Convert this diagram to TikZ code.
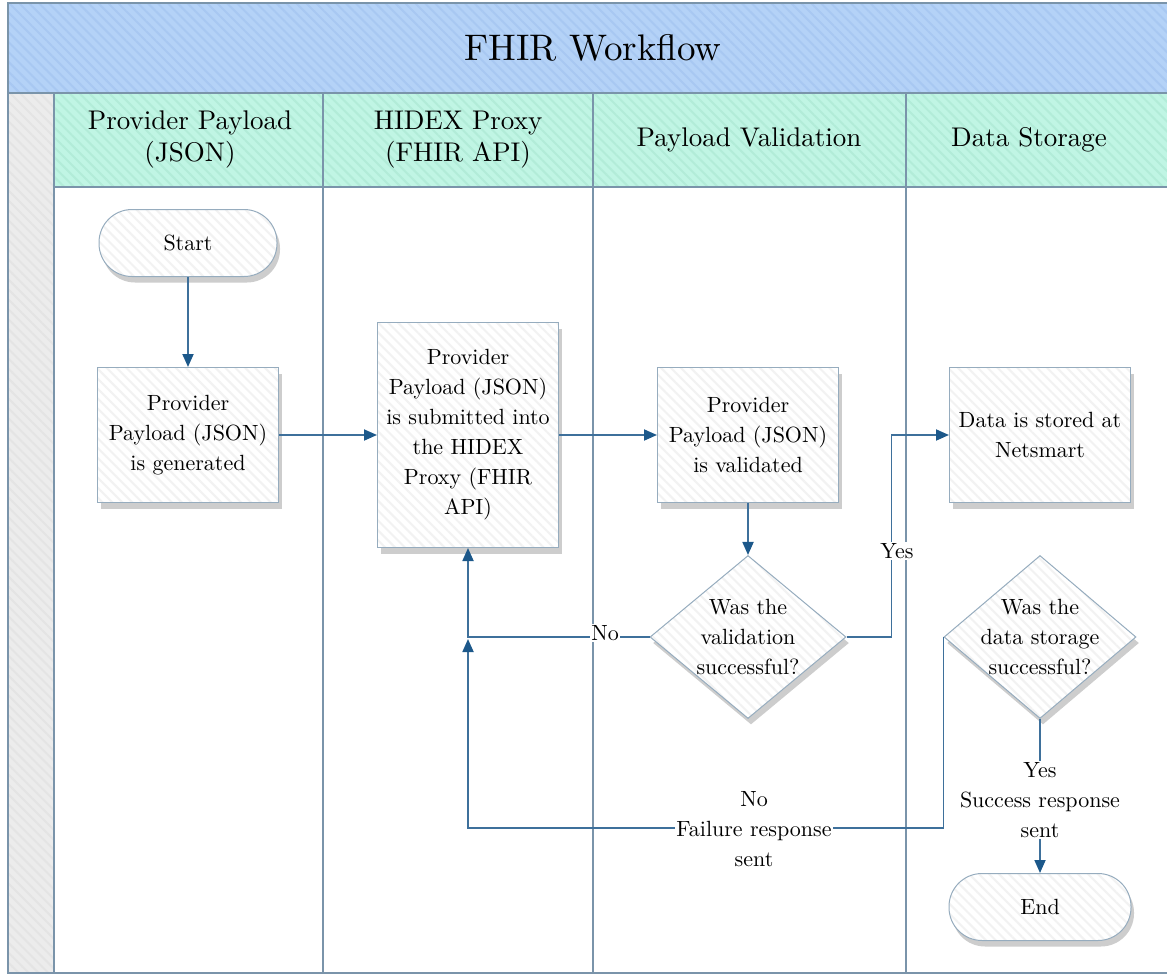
\documentclass[tikz,border=0pt]{standalone}
\usepackage{fontspec}
\setmainfont{lmroman10-regular.otf}
\usetikzlibrary{arrows.meta,shapes.geometric,shadows,patterns.meta,calc}
\definecolor{titleblue}{RGB}{180,210,247}
\definecolor{titlestripe}{RGB}{168,200,242}
\definecolor{headmint}{RGB}{192,245,228}
\definecolor{headstripe}{RGB}{178,236,216}
\definecolor{graycol}{RGB}{236,236,236}
\definecolor{graystripe}{RGB}{228,228,228}
\definecolor{nodestripe}{RGB}{242,242,242}
\definecolor{frameline}{RGB}{122,148,170}
\definecolor{nodeline}{RGB}{150,172,190}
\definecolor{connline}{RGB}{62,112,155}
\definecolor{tipcol}{RGB}{28,88,138}
\tikzset{
  striped/.style 2 args={preaction={fill=#1},pattern={Lines[angle=-45,distance=7pt,line width=2pt]},pattern color=#2},
  frame/.style={draw=frameline,line width=2pt},
  nfont/.style={font=\fontsize{22}{30}\selectfont},
  basenode/.style={draw=nodeline,line width=1pt,align=center,nfont,
     drop shadow={shadow xshift=3pt,shadow yshift=-6pt,opacity=0.3,fill=black!65},
     striped={white}{nodestripe}},
  terminal/.style={basenode,rectangle,rounded corners=33pt,minimum width=178pt,minimum height=67pt,inner sep=0pt},
  process/.style={basenode,rectangle,minimum width=181pt,minimum height=135pt,inner sep=2pt},
  decision/.style={basenode,diamond,minimum width=196pt,minimum height=163pt,inner sep=0pt},
  dtext/.style={align=center,nfont,inner sep=0pt},
  conn/.style={draw=connline,line width=1.8pt,-{Triangle[length=13pt,width=11pt,color=tipcol]}},
  lab/.style={fill=white,align=center,nfont,inner sep=1pt},
  headtext/.style={align=center,font=\fontsize{27}{32}\selectfont},
}
\begin{document}
\begin{tikzpicture}[x=1pt,y=-1pt]
\useasboundingbox (0,0) rectangle (1167,974);
% title band
\path[striped={titleblue}{titlestripe}] (8,3) rectangle (1180,93);
% header row
\path[striped={headmint}{headstripe}] (54,93) rectangle (1180,187);
% gray column
\path[striped={graycol}{graystripe}] (8,93) rectangle (54,973);
% frame lines
\draw[frame] (8,3) rectangle (1180,973);
\draw[frame] (8,93) -- (1180,93);
\draw[frame] (54,187) -- (1180,187);
\draw[frame] (54,93) -- (54,973);
\draw[frame] (323,93) -- (323,973);
\draw[frame] (593,93) -- (593,973);
\draw[frame] (906,93) -- (906,973);
% texts
\node[font=\fontsize{37}{42}\selectfont] (title) at (593,48) {FHIR Workflow};
\node[headtext] (h1) at (190,140) {Provider Payload\\(JSON)};
\node[headtext] (h2) at (458,140) {HIDEX Proxy\\(FHIR API)};
\node[headtext] (h3) at (749,140) {Payload Validation};
\node[headtext] (h4) at (1029,140) {Data Storage};
% nodes
\node[terminal] (start) at (188,243) {Start};
\node[process] (b1) at (188,435) {Provider\\Payload (JSON)\\is generated};
\node[process,minimum height=225pt] (b2) at (468,435) {Provider\\Payload (JSON)\\is submitted into\\the HIDEX\\Proxy (FHIR\\API)};
\node[process] (b3) at (748,435) {Provider\\Payload (JSON)\\is validated};
\node[process] (b4) at (1040,435) {Data is stored at\\Netsmart};
\node[decision] (d1) at (748,637) {};
\node[dtext] (d1t) at (748,637) {Was the\\validation\\successful?};
\node[decision,minimum width=192pt] (d2) at (1040,637) {};
\node[dtext] (d2t) at (1040,637) {Was the\\data storage\\successful?};
\node[terminal,minimum width=182pt] (end) at (1040,907) {End};
% connectors
\draw[conn] (start) -- (b1);
\draw[conn] (b1) -- (b2);
\draw[conn] (b2) -- (b3);
\draw[conn] (b3) -- (d1);
\draw[conn] (d1.east) -- ++(45,0) |- (b4.west);
\draw[conn] (d1.west) -| (b2.south);
\coordinate (join) at (468,639);
\draw[conn] (d2.west) -- ++(0,191) -| (join);
\draw[conn] (d2.south) -- (end.north);
% labels
\node[lab] (yes1) at (897,551) {Yes};
\node[lab] (no1) at (605,633) {No};
\node[lab] (fail) at (754,829) {No\\Failure response\\sent};
\node[lab] (succ) at (1040,800) {Yes\\Success response\\sent};
\end{tikzpicture}
\end{document}
